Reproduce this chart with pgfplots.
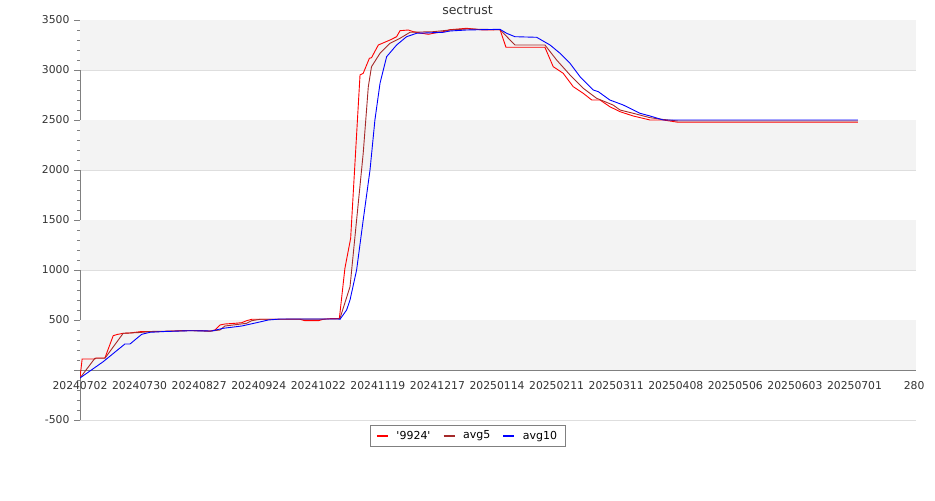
\documentclass[border=0pt]{standalone}
\usepackage{pgfplots}
\pgfplotsset{compat=1.18}
\usepackage{fontspec}
\setmainfont{DejaVu Sans}
\definecolor{axgray}{RGB}{128,128,128}
\definecolor{gridgray}{RGB}{222,222,222}
\definecolor{bandgray}{RGB}{243,243,243}
\definecolor{txtgray}{RGB}{51,51,51}
\definecolor{avgfive}{RGB}{165,42,42}
\begin{document}
\begin{tikzpicture}
\begin{axis}[
  scale only axis, width=836pt, height=400pt,
  xmin=0, xmax=392.9, ymin=-500, ymax=3500,
  axis x line*=middle, axis y line*=left,
  hide obscured x ticks=false, hide obscured y ticks=false,
  axis line style={axgray, line width=0.8pt},
  xtick={0,28,...,392},
  xticklabels={20240702,20240730,20240827,20240924,20241022,20241119,20241217,20250114,20250211,20250311,20250408,20250506,20250603,20250701,280},
  xtick style={draw=none},
  ytick={-500,0,500,1000,1500,2000,2500,3000,3500},
  yticklabels={-500,,500,1000,1500,2000,2500,3000,3500},
  minor y tick num=4,
  tick align=outside,
  ytick style={axgray, line width=0.8pt},
  major tick length=6pt, minor tick length=3pt,
  ymajorgrids, grid style={gridgray, line width=0.8pt},
  /pgf/number format/assume math mode=true,
  tick label style={font=\fontsize{10.8}{12}\selectfont, text=txtgray},
  yticklabel style={xshift=-1pt},
  xticklabel style={yshift=-2pt},
  title={sectrust},
  title style={at={(0.4635,1)}, anchor=base, yshift=-1pt, font=\fontsize{12.5}{14}\selectfont, text=txtgray},
  legend columns=3,
  legend style={at={(0.4635,-0.0125)}, anchor=north, draw=axgray, line width=0.8pt,
    font=\fontsize{11}{13}\selectfont, text=black, inner xsep=6pt, inner ysep=3.5pt,
    /tikz/every odd column/.append style={column sep=5.5pt},
    /tikz/every even column/.append style={column sep=10pt}},
  legend image code/.code={\draw[#1, line width=2pt] (0pt,0pt) -- (11pt,0pt);},
  legend cell align=left,
  every axis plot/.append style={line width=0.9pt},
]
\coordinate (sw) at (rel axis cs:0,0);
\coordinate (ne) at (rel axis cs:1,1);
\fill[bandgray] (axis cs:0,0) rectangle (axis cs:392.9,500);
\fill[bandgray] (axis cs:0,1000) rectangle (axis cs:392.9,1500);
\fill[bandgray] (axis cs:0,2000) rectangle (axis cs:392.9,2500);
\fill[bandgray] (axis cs:0,3000) rectangle (axis cs:392.9,3500);

\addplot[red] coordinates {
(0,-80) (1,110) (7,110) (7.5,120) (11.7,120) (15.6,343) (17.4,355) (20.3,367) (23.5,370) (28.2,383)
(40,385) (47,393) (51.7,395) (56.4,395) (61,388) (63.4,400) (65.8,450) (68.1,460) (72.8,467) (76,473)
(78.3,493) (80.7,507) (103.4,507) (105.7,493) (112,493) (114.3,507) (117.5,513) (121.4,515) (121.9,517)
(124.5,1017) (127.2,1317) (131.6,2950) (133.1,2967) (136,3117) (137,3123) (140.2,3250) (145.7,3300)
(148.8,3333) (150.4,3393) (154.3,3400) (156.6,3383) (159.8,3370) (163.7,3357) (166.8,3370) (170.7,3383)
(173.9,3403) (181.7,3417) (189.5,3400) (197.4,3403) (200.2,3227) (218.5,3227) (222.4,3033) (227.1,2967)
(231.8,2833) (236.5,2767) (240.5,2700) (244.4,2700) (249,2633) (253.8,2583) (260,2540) (267.9,2500)
(274.1,2500) (281.2,2477) (365.6,2477)
};
\addlegendentry{\textquotesingle9924\textquotesingle}

\addplot[avgfive] coordinates {
(0,-80) (7,117) (11.7,117) (20.3,367) (28.2,375) (32.9,385) (51.7,393) (61,388) (65.8,400) (68.1,440)
(78.3,467) (80.7,493) (84.6,507) (121.4,510) (122.2,517) (126.9,833) (130,1500) (133.1,2167) (135.5,2833)
(137,3033) (141,3167) (145.7,3267) (150.4,3317) (155.1,3377) (166,3383) (173.9,3400) (181.7,3410)
(197.4,3403) (204.4,3250) (218.5,3250) (224,3100) (230.3,2950) (236.5,2817) (242.8,2717) (250.5,2650)
(253.8,2600) (260,2567) (267.9,2523) (273.4,2507) (281,2490) (365.6,2490)
};
\addlegendentry{avg5}

\addplot[blue] coordinates {
(0,-80) (10.9,83) (21.1,260) (23.5,260) (29,357) (32.9,377) (40,385) (51.7,393) (61.9,390) (67.3,417)
(76,440) (83,473) (88.5,500) (94,510) (121.4,510) (122.2,507) (125.3,600) (126.9,700) (130,1000)
(133.1,1500) (136.3,2000) (138.6,2500) (141,2867) (144.1,3133) (148.8,3250) (153.5,3333) (158.2,3367)
(170.7,3377) (173.9,3390) (181.7,3400) (197.4,3407) (200.5,3367) (204.4,3333) (214.6,3327) (220.9,3250)
(225.6,3167) (230.3,3067) (235,2933) (241.2,2800) (243.6,2783) (249,2700) (255.3,2650) (263.2,2567)
(267.9,2540) (274.1,2500) (365.6,2500)
};
\addlegendentry{avg10}
\end{axis}
\pgfresetboundingbox
\path[use as bounding box] ([xshift=-80pt,yshift=-80pt]sw) rectangle ([xshift=19pt,yshift=20pt]ne);
\end{tikzpicture}
\end{document}
